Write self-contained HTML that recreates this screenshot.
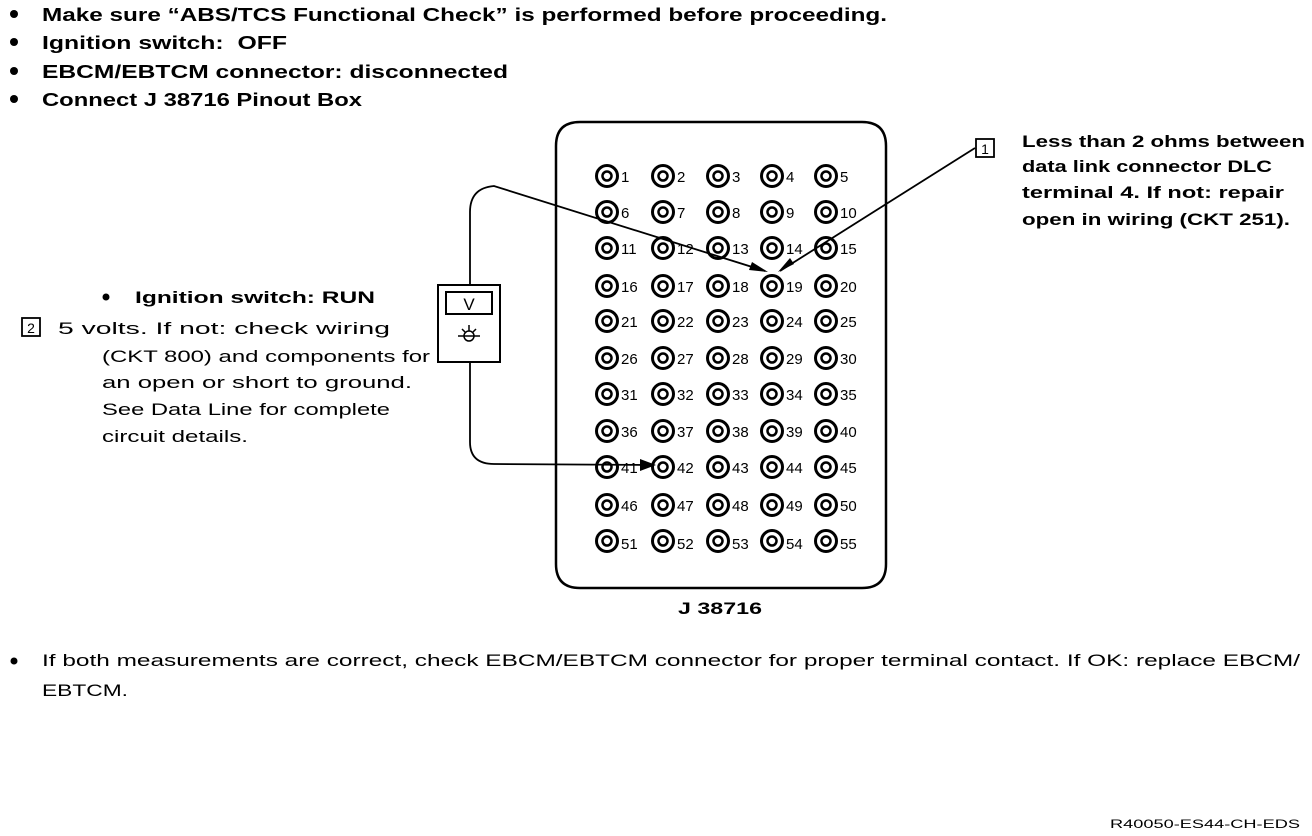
<!DOCTYPE html>
<html><head><meta charset="utf-8"><style>
html,body{margin:0;padding:0;background:#fff;}
svg{display:block;}
text{font-family:"Liberation Sans",Arial,sans-serif;fill:#000;}
.b{font-weight:bold;}
</style></head><body>
<svg width="1312" height="836" viewBox="0 0 1312 836" xmlns="http://www.w3.org/2000/svg">
<g class="b" font-size="18">
<circle cx="14" cy="14" r="4"/><text x="42" y="21" textLength="845" lengthAdjust="spacingAndGlyphs">Make sure “ABS/TCS Functional Check” is performed before proceeding.</text>
<circle cx="14" cy="42" r="4"/><text x="42" y="49" textLength="245" lengthAdjust="spacingAndGlyphs">Ignition switch:&#160;&#160;OFF</text>
<circle cx="14" cy="71" r="4"/><text x="42" y="78" textLength="466" lengthAdjust="spacingAndGlyphs">EBCM/EBTCM connector: disconnected</text>
<circle cx="14" cy="99" r="4"/><text x="42" y="106" textLength="320" lengthAdjust="spacingAndGlyphs">Connect J 38716 Pinout Box</text>
</g>
<path d="M580,122 H862 Q886,122 886,146 V564 Q886,588 862,588 H580 Q556,588 556,564 V146 Q556,122 580,122 Z" fill="none" stroke="#000" stroke-width="2.5"/>
<text x="720" y="614" font-size="17" text-anchor="middle" class="b" textLength="84" lengthAdjust="spacingAndGlyphs">J 38716</text>
<rect x="438" y="285" width="62" height="77" fill="#fff" stroke="#000" stroke-width="2"/>
<rect x="446" y="292" width="46" height="22" fill="none" stroke="#000" stroke-width="2"/>
<text x="469" y="310" font-size="17" text-anchor="middle">V</text>
<circle cx="469" cy="336" r="5" fill="none" stroke="#000" stroke-width="1.5"/>
<path d="M458,336 H480 M469,325 V331 M462,329 L465,332 M476,329 L473,332" stroke="#000" stroke-width="1.5"/>
<path d="M470,285 V212 Q470,188 494,186 L765,271" fill="none" stroke="#000" stroke-width="1.8"/>
<path d="M470,362 V442 Q470,464 494,464 L652,465" fill="none" stroke="#000" stroke-width="1.8"/>
<path d="M975,148 L780,271" fill="none" stroke="#000" stroke-width="1.8"/>
<polygon points="768,272 752,262 749,270" fill="#000"/>
<polygon points="778,272 790,258 794,264" fill="#000"/>
<polygon points="656,465 640,459 640,471" fill="#000"/>
<rect x="976" y="139" width="18" height="18" fill="none" stroke="#000" stroke-width="1.8"/>
<text x="985" y="154" font-size="14" text-anchor="middle">1</text>
<g font-size="17" class="b">
<text x="1022" y="147" textLength="283" lengthAdjust="spacingAndGlyphs">Less than 2 ohms between</text>
<text x="1022" y="172" textLength="250" lengthAdjust="spacingAndGlyphs">data link connector DLC</text>
<text x="1022" y="198" textLength="262" lengthAdjust="spacingAndGlyphs">terminal 4. If not: repair</text>
<text x="1022" y="225" textLength="268" lengthAdjust="spacingAndGlyphs">open in wiring (CKT 251).</text>
</g>
<circle cx="106" cy="297" r="3.5"/>
<g font-size="17" class="b">
<text x="135" y="303" textLength="240" lengthAdjust="spacingAndGlyphs">Ignition switch: RUN</text>
</g>
<rect x="22" y="318" width="18" height="18" fill="none" stroke="#000" stroke-width="1.8"/>
<text x="31" y="333" font-size="14" text-anchor="middle">2</text>
<g font-size="17">
<text x="58" y="334" textLength="332" lengthAdjust="spacingAndGlyphs">5 volts. If not: check wiring</text>
<text x="102" y="362" textLength="328" lengthAdjust="spacingAndGlyphs">(CKT 800) and components for</text>
<text x="102" y="388" textLength="310" lengthAdjust="spacingAndGlyphs">an open or short to ground.</text>
<text x="102" y="415" textLength="288" lengthAdjust="spacingAndGlyphs">See Data Line for complete</text>
<text x="102" y="442" textLength="146" lengthAdjust="spacingAndGlyphs">circuit details.</text>
</g>
<circle cx="14" cy="661" r="3.5"/>
<g font-size="17">
<text x="42" y="666" textLength="1258" lengthAdjust="spacingAndGlyphs">If both measurements are correct, check EBCM/EBTCM connector  for proper terminal contact. If OK: replace EBCM/</text>
<text x="42" y="696" textLength="86" lengthAdjust="spacingAndGlyphs">EBTCM.</text>
</g>
<text x="1110" y="828" font-size="12" textLength="190" lengthAdjust="spacingAndGlyphs">R40050-ES44-CH-EDS</text>
<g id="pins"></g>
</svg>
<script>
(function(){
var ns="http://www.w3.org/2000/svg",g=document.getElementById("pins");
var xs=[607,663,718,772,826],ys=[176,212,248,286,321,358,394,431,467,505,541];
var n=1;
for(var r=0;r<11;r++)for(var c=0;c<5;c++){
var x=xs[c],y=ys[r];
var a=document.createElementNS(ns,"circle");a.setAttribute("cx",x);a.setAttribute("cy",y);a.setAttribute("r",10.5);a.setAttribute("fill","none");a.setAttribute("stroke","#000");a.setAttribute("stroke-width","3");g.appendChild(a);
var b=document.createElementNS(ns,"circle");b.setAttribute("cx",x);b.setAttribute("cy",y);b.setAttribute("r",4.5);b.setAttribute("fill","none");b.setAttribute("stroke","#000");b.setAttribute("stroke-width","2.5");g.appendChild(b);
var t=document.createElementNS(ns,"text");t.setAttribute("x",x+14);t.setAttribute("y",y+(r==10?8:6));t.setAttribute("font-size","15");t.textContent=n;g.appendChild(t);
n++;}
})();
</script>
</body></html>
